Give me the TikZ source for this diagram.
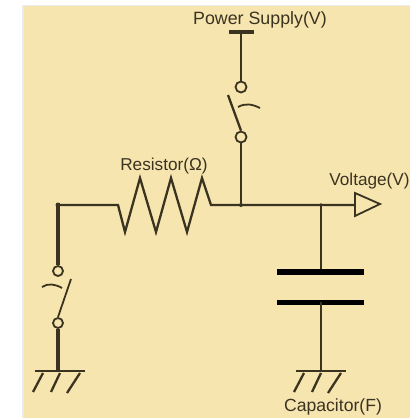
\documentclass[tikz,border=0pt]{standalone}
\usepackage{fontspec}
\setmainfont{Liberation Sans}
\definecolor{panel}{HTML}{F7E5B0}
\definecolor{ink}{HTML}{3A3320}
\tikzset{
  wire/.style={draw=ink,line width=2.3pt},
  heavywire/.style={draw=ink,line width=3.4pt},
  thin part/.style={draw=ink,line width=1.8pt},
  plate/.style={draw=black,line width=6pt},
  contact/.style={circle,draw=ink,line width=1.8pt,fill=panel,inner sep=0pt,minimum size=11pt},
  lbl/.style={text=ink,inner sep=0pt,font=\fontsize{17.8}{18}\selectfont}
}
\begin{document}
\begin{tikzpicture}[x=1pt,y=-1pt]
\useasboundingbox (0,0) rectangle (410,418);
\fill[white] (0,0) rectangle (410,418);
\fill[black!8] (22,5) rectangle (410,418);
\fill[panel] (24,6) rectangle (410,418);
\coordinate (supply) at (241,32);
\coordinate (junctionA) at (241,205);
\coordinate (junctionB) at (321,205);
\coordinate (leftcorner) at (58,205);
\coordinate (gndL) at (58,371);
\coordinate (gndR) at (321,371);
\node[contact] (s1a) at (241,87) {};
\node[contact] (s1b) at (241,137) {};
\node[contact,minimum size=10pt] (s2a) at (58,271) {};
\node[contact,minimum size=10pt] (s2b) at (58,323) {};
\coordinate (plate1) at (321,272);
\coordinate (plate2) at (321,302);
\draw[wire,line width=4.5pt] (229,32) -- (254,32);
\draw[wire] (supply) -- (s1a);
\draw[wire] (s1b) -- (junctionA);
\draw[wire] (s1b.north) -- (228,95);
\draw[thin part] (238,107) .. controls (245,103) and (252,104) .. (260,108);
\draw[heavywire] (leftcorner) -- (s2a);
\draw[heavywire] (s2b) -- (gndL);
\draw[wire,line join=miter] (leftcorner) -- (118,205) -- (125,232) -- (140,178) -- (156,232) -- (171,178) -- (187,232) -- (202,178) -- (211,205) -- (junctionA) -- (junctionB) -- (355,205);
\fill[ink] (leftcorner) circle (2.5pt) (junctionA) circle (2pt) (junctionB) circle (1.8pt);
\draw[thin part] (355,193) -- (380,204) -- (355,216) -- cycle;
\draw[thin part] (s2b.north) -- (71,279);
\draw[thin part] (42,287) .. controls (48,283) and (55,284) .. (62,288);
\draw[wire] (junctionB) -- (plate1);
\draw[plate] (277,272) -- (364,272);
\draw[plate,line width=5pt] (277,302) -- (364,302);
\draw[wire] (plate2) -- (gndR);
\foreach \g/\ox in {gndL/0,gndR/261}{
  \draw[thin part] (35+\ox,371) -- (85+\ox,371);
  \draw[wire] (43+\ox,373) -- (33+\ox,392);
  \draw[wire] (60+\ox,373) -- (51+\ox,392);
  \draw[wire] (80+\ox,373) -- (67+\ox,393);
}
\node[lbl] (lblP) at (260,20) {Power Supply(V)};
\node[lbl,font=\fontsize{17.2}{18}\selectfont] (lblR) at (164,166) {Resistor(Ω)};
\node[lbl,font=\fontsize{17.2}{18}\selectfont] (lblV) at (369.5,181) {Voltage(V)};
\node[lbl,font=\fontsize{17.6}{18}\selectfont] (lblC) at (333,407) {Capacitor(F)};
\end{tikzpicture}
\end{document}
